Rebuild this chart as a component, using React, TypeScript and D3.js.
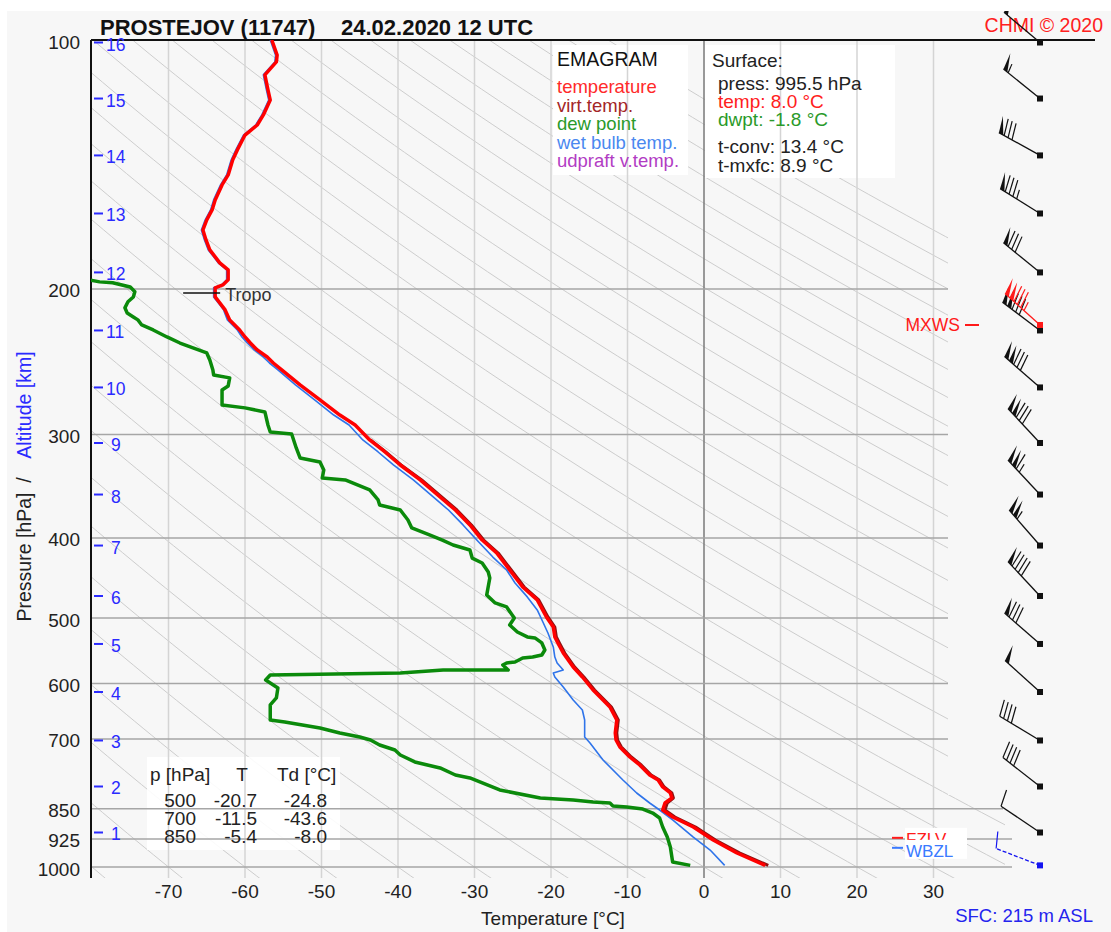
import React from "react";
import * as d3 from "d3";

type Pt = [number, number]; // [pressure hPa, temperature °C]

// Measured temperature profile
const temperature: Pt[] = [
  [100.0, -56.5], [104.3, -55.8], [106.3, -55.9], [110.2, -57.4], [114.9, -57.0], [118.2, -56.7],
  [123.2, -57.6], [126.7, -58.4], [130.3, -60.0], [135.8, -61.0], [139.6, -61.6], [145.6, -62.2],
  [149.7, -63.0], [156.1, -63.9], [160.5, -64.3], [165.0, -65.0], [169.7, -65.5], [174.5, -65.1],
  [179.4, -64.6], [182.9, -63.9], [186.0, -63.3], [189.7, -62.2], [195.0, -62.2], [197.8, -62.9],
  [199.4, -63.9], [204.5, -63.9], [207.9, -63.3], [212.0, -62.6], [218.0, -62.0], [224.2, -60.7],
  [228.6, -60.0], [232.5, -59.3], [237.0, -58.4], [241.7, -57.1], [245.8, -56.3], [250.6, -55.2],
  [261.3, -52.8], [272.4, -50.2], [284.1, -47.6], [292.1, -45.6], [304.5, -43.7], [314.9, -41.7],
  [326.5, -39.7], [340.4, -37.1], [356.9, -34.5], [370.1, -32.5], [385.8, -30.6], [402.4, -29.0],
  [417.2, -27.1], [437.4, -25.4], [458.6, -23.7], [475.4, -21.8], [498.5, -20.6], [512.6, -19.7],
  [527.0, -19.5], [535.9, -19.1], [551.1, -18.4], [573.0, -17.1], [589.2, -15.9], [610.9, -14.5],
  [628.1, -13.2], [640.5, -12.3], [664.1, -11.4], [688.5, -11.6], [702.1, -11.5], [716.0, -11.0],
  [736.2, -9.7], [752.7, -8.4], [774.0, -7.1], [784.8, -6.0], [800.3, -5.4], [813.8, -4.4],
  [825.2, -4.2], [836.8, -5.1], [853.3, -5.4], [870.0, -4.1], [894.6, -1.4], [927.6, 1.2],
  [961.8, 4.3], [995.5, 8.0],
];

// Virtual temperature (lower troposphere, where it departs from the temperature)
const virtualTemperature: Pt[] = [
  [304.5, -43.6], [314.9, -41.6], [326.5, -39.6], [340.4, -36.9], [356.9, -34.3], [370.1, -32.3],
  [385.8, -30.4], [402.4, -28.8], [417.2, -26.9], [437.4, -25.2], [458.6, -23.5], [475.4, -21.6],
  [498.5, -20.4], [512.6, -19.5], [527.0, -19.3], [535.9, -18.9], [551.1, -18.2], [573.0, -16.9],
  [589.2, -15.7], [610.9, -14.3], [628.1, -13.0], [640.5, -12.1], [664.1, -11.2], [688.5, -11.4],
  [702.1, -11.3], [716.0, -10.8], [736.2, -9.5], [752.7, -8.2], [774.0, -6.9], [784.8, -5.8],
  [800.3, -5.2], [813.8, -4.2], [825.2, -4.0], [836.8, -4.8], [853.3, -5.1], [870.0, -3.8],
  [894.6, -1.1], [927.6, 1.5], [961.8, 4.7], [995.5, 8.4],
];

// Dew point profile
const dewPoint: Pt[] = [
  [192.0, -84.0], [196.1, -79.0], [196.6, -77.3], [198.9, -75.0], [201.6, -74.4], [204.5, -74.6],
  [207.3, -75.3], [210.8, -75.7], [213.8, -75.4], [216.2, -74.6], [218.0, -74.0], [221.1, -73.5],
  [224.2, -72.0], [228.6, -70.2], [232.5, -68.5], [235.7, -66.8], [239.0, -65.0], [243.7, -64.6],
  [250.6, -64.2], [254.1, -64.1], [256.2, -62.0], [262.0, -62.2], [265.0, -63.0], [276.2, -63.0],
  [278.5, -60.0], [281.7, -57.4], [292.1, -57.0], [297.8, -56.7], [299.5, -53.9], [311.4, -53.3],
  [320.2, -52.8], [323.8, -50.2], [331.1, -49.7], [338.5, -49.9], [340.4, -46.9], [350.0, -43.7],
  [359.9, -42.6], [365.0, -42.4], [370.1, -39.7], [380.5, -38.7], [389.0, -38.2], [396.8, -35.8],
  [402.4, -34.2], [408.0, -32.8], [413.7, -30.6], [423.1, -30.3], [429.0, -29.0], [439.8, -28.2],
  [447.2, -28.0], [468.8, -28.4], [479.4, -27.3], [484.8, -25.8], [499.9, -24.8], [509.8, -25.4],
  [519.8, -24.4], [527.0, -23.1], [528.5, -22.1], [535.9, -21.2], [546.5, -20.8], [554.2, -21.2],
  [557.3, -22.4], [558.8, -23.7], [565.1, -24.7], [566.6, -25.8], [569.8, -26.3], [577.8, -25.6],
  [577.8, -34.1], [582.7, -39.7], [585.9, -56.7], [594.1, -57.3], [607.5, -55.7], [624.6, -55.9],
  [636.9, -56.7], [664.1, -56.7], [667.8, -54.8], [679.0, -50.2], [688.5, -47.6], [696.3, -45.0],
  [702.1, -43.6], [712.0, -42.4], [722.0, -40.4], [732.1, -39.7], [746.4, -37.8], [759.0, -34.5],
  [774.0, -32.5], [780.4, -30.6], [807.0, -26.7], [825.2, -21.4], [829.8, -17.1], [834.5, -14.5],
  [836.8, -12.3], [843.8, -11.9], [846.2, -10.1], [850.9, -8.0], [860.5, -6.7], [872.4, -5.8],
  [894.6, -5.4], [919.9, -4.8], [945.9, -4.4], [972.6, -4.2], [986.2, -4.1], [995.5, -1.8],
];

// Wet bulb temperature profile
const wetBulb: Pt[] = [
  [100.0, -56.7], [104.3, -56.0], [106.3, -56.1], [110.2, -57.6], [114.9, -57.2], [118.2, -56.9],
  [123.2, -57.8], [126.7, -58.6], [130.3, -60.2], [135.8, -61.2], [139.6, -61.8], [145.6, -62.4],
  [149.7, -63.2], [156.1, -64.1], [160.5, -64.5], [165.0, -65.2], [169.7, -65.7], [174.5, -65.3],
  [179.4, -64.8], [182.9, -64.1], [186.0, -63.5], [189.7, -62.4], [195.0, -62.4], [197.8, -63.1],
  [199.4, -64.1], [204.5, -64.1], [207.9, -63.5], [212.0, -62.8], [218.0, -62.3], [224.2, -61.0],
  [228.6, -60.4], [232.5, -59.7], [237.0, -58.8], [241.7, -57.6], [245.8, -56.8], [250.6, -55.7],
  [261.3, -53.4], [272.4, -50.9], [284.1, -48.4], [292.1, -46.4], [304.5, -44.6], [314.9, -42.6],
  [326.5, -40.6], [340.4, -38.0], [356.9, -35.4], [370.1, -33.4], [385.8, -31.5], [402.4, -29.7],
  [421.9, -27.6], [437.4, -25.8], [453.5, -24.7], [471.4, -23.1], [488.8, -21.8], [506.9, -21.0],
  [521.2, -20.4], [541.9, -19.7], [557.3, -19.5], [566.6, -19.2], [577.8, -18.4], [582.7, -19.7],
  [589.2, -19.5], [605.8, -18.4], [628.1, -17.1], [645.9, -15.9], [664.1, -15.6], [696.3, -15.6],
  [708.0, -14.9], [742.3, -13.2], [784.8, -10.6], [813.8, -8.8], [836.8, -7.1], [853.3, -5.8],
  [877.3, -4.1], [919.9, -1.4], [953.8, 0.8], [995.5, 2.7],
];

const pressureTicks = [100, 200, 300, 400, 500, 600, 700, 850, 925, 1000];
const temperatureTicks = [-70, -60, -50, -40, -30, -20, -10, 0, 10, 20, 30];

// Altitude (km) levels of the sounding and their pressures
const altitudeKm = [16, 15, 14, 13, 12, 11, 10, 9, 8, 7, 6, 5, 4, 3, 2, 1];
const altitudePressure = [
  100.7, 117.7, 137.9, 162.1, 191.0, 224.5, 263.1, 307.1, 354.5, 408.6, 470.2, 537.4, 614.3,
  703.1, 799.2, 908.4,
];

// Winds at each altitude level plus the surface
const windPressure = [...altitudePressure, 995.5];
const windDirection = [310, 309, 299, 302, 309, 307, 311, 317, 317, 319, 317, 311, 312, 301, 308, 304, 291];
const windSpeed = [50, 55, 80, 85, 80, 130, 130, 130, 115, 105, 90, 80, 50, 40, 40, 10, 10];

const maxWindPressure = 221.1;
const maxWindDirection = 312;
const maxWindSpeed = 135;

const tropopausePressure = 202.2;
const freezingLevelPressure = 922;
const wetBulbZeroPressure = 948;

const tableLevels = [500, 700, 850];
const tableT = [-20.7, -11.5, -5.4];
const tableTd = [-24.8, -43.6, -8.0];

const surfacePress = 995.5;
const surfaceTemp = 8.0;
const surfaceDwpt = -1.8;
const tConv = 13.4;
const tMxfc = 8.9;

const legendItems = ["temperature", "virt.temp.", "dew point", "wet bulb temp.", "udpraft v.temp."];
const legendColors = ["#ff2a2a", "#a32626", "#2a9a2a", "#4a88f0", "#b23cc4"];

const FONT = "'Liberation Sans', Arial, Helvetica, sans-serif";

const x = d3.scaleLinear().domain([-80, 30]).range([92, 933.5]);
const y = d3.scaleLog().domain([100, 1000]).range([40, 867]);

const profileLine = d3
  .line<Pt>()
  .x((d) => x(d[1]))
  .y((d) => y(d[0]));

// Dry adiabats labelled by potential temperature (°C at 1000 hPa)
const adiabatThetas = d3.range(-80, 231, 10);
const adiabatLevels = d3.range(0, 121).map((i) => 100 * Math.pow(10.45, i / 120));
const adiabatPath = (thetaC: number) =>
  profileLine(
    adiabatLevels.map((p) => [p, (thetaC + 273.15) * Math.pow(p / 1000, 0.2857) - 273.15] as Pt)
  );

const fmt1 = (v: number) => v.toFixed(1);

function windBarb(
  key: string,
  ax: number,
  ay: number,
  dir: number,
  speed: number,
  color: string,
  dashed = false
) {
  const L = 47;
  const r = (dir * Math.PI) / 180;
  const ux = Math.sin(r);
  const uy = -Math.cos(r);
  const nx = -uy;
  const ny = ux;
  const tx = ax + L * ux;
  const ty = ay + L * uy;
  const bx = nx * 16.5 + ux * 4.5;
  const by = ny * 16.5 + uy * 4.5;
  const at = (s: number): [number, number] => [tx - s * ux, ty - s * uy];
  const parts: React.ReactElement[] = [];
  let rest = Math.round(speed / 5) * 5;
  let s = 0;
  let i = 0;
  while (rest >= 50) {
    const [px, py] = at(s);
    const [qx, qy] = at(s + 5);
    parts.push(
      <polygon key={i++} points={`${px},${py} ${px + bx},${py + by} ${qx},${qy}`} fill={color} />
    );
    s += 6;
    rest -= 50;
  }
  while (rest >= 10) {
    const [px, py] = at(s);
    parts.push(
      <line key={i++} x1={px} y1={py} x2={px + bx} y2={py + by} stroke={color} strokeWidth={1.2} />
    );
    s += 4.5;
    rest -= 10;
  }
  if (rest >= 5) {
    const [px, py] = at(s);
    parts.push(
      <line key={i++} x1={px} y1={py} x2={px + bx * 0.55} y2={py + by * 0.55} stroke={color} strokeWidth={1.2} />
    );
  }
  return (
    <g key={key}>
      <line
        x1={ax}
        y1={ay}
        x2={tx}
        y2={ty}
        stroke={color}
        strokeWidth={1.3}
        strokeDasharray={dashed ? "4 2" : undefined}
      />
      {parts}
      <rect x={ax - 3} y={ay - 3} width={6} height={6} fill={color} />
    </g>
  );
}

export default function App() {
  const barbX = 1040;
  const tropoY = y(tropopausePressure);
  const tropoX = x(-63.9);
  const mxY = y(maxWindPressure);
  const fzY = y(freezingLevelPressure);
  const wbY = y(wetBulbZeroPressure);

  return (
    <div style={{ position: "absolute", left: 0, top: 0 }}>
      <svg width={1111} height={932} viewBox="0 0 1111 932" fontFamily={FONT} style={{ display: "block" }}>
        <defs>
          <clipPath id="plotClip">
            <rect x={91} y={40} width={857} height={832} />
          </clipPath>
          <clipPath id="gridClip">
            <path d="M91,40H948V795H1005V878H91Z" />
          </clipPath>
          <clipPath id="barbClip">
            <rect x={0} y={11} width={1111} height={921} />
          </clipPath>
        </defs>

        <rect width={1111} height={932} fill="#ffffff" />
        <rect x={7} y={11} width={1104} height={921} fill="#f7f7f7" />

        {/* dry adiabats */}
        <g clipPath="url(#gridClip)" fill="none" stroke="#cdcdcd" strokeWidth={1}>
          {adiabatThetas.map((t) => (
            <path key={t} d={adiabatPath(t) || ""} />
          ))}
        </g>

        {/* info boxes */}
        <rect x={553} y={45} width={135} height={130} fill="#ffffff" />
        <rect x={705} y={45} width={190} height={133} fill="#ffffff" />
        <rect x={147} y={757} width={193} height={93} fill="#ffffff" fillOpacity={0.9} />

        {/* isotherms */}
        {temperatureTicks.map((t) => (
          <line
            key={t}
            x1={x(t)}
            x2={x(t)}
            y1={40}
            y2={878}
            stroke={t === 0 ? "#7a7a7a" : "#d4d4d4"}
            strokeWidth={1.5}
          />
        ))}

        {/* isobars */}
        {pressureTicks.slice(1).map((p) => (
          <line
            key={p}
            x1={91}
            x2={p === 850 ? 1003 : p >= 925 ? 1012 : 948}
            y1={y(p)}
            y2={y(p)}
            stroke="#a6a6a6"
            strokeWidth={1.5}
          />
        ))}
        <line x1={91} x2={1095} y1={y(100)} y2={y(100)} stroke="#111" strokeWidth={2} />
        <line x1={91} x2={91} y1={40} y2={878} stroke="#111" strokeWidth={2} />

        {/* profiles */}
        <g clipPath="url(#plotClip)" fill="none" strokeLinejoin="round">
          <path d={profileLine(virtualTemperature) || ""} stroke="#8e1212" strokeWidth={3} />
          <path d={profileLine(dewPoint) || ""} stroke="#0b8a0b" strokeWidth={3.5} />
          <path d={profileLine(wetBulb) || ""} stroke="#2f74ea" strokeWidth={1.6} />
          <path d={profileLine(temperature) || ""} stroke="#ff0000" strokeWidth={3.5} />
        </g>

        {/* tropopause */}
        <line x1={tropoX - 32} x2={tropoX + 5} y1={tropoY} y2={tropoY} stroke="#111" strokeWidth={1.5} />
        <text x={tropoX + 10} y={tropoY + 8} fontSize={18} fill="#333">
          Tropo
        </text>

        {/* title */}
        <text x={100} y={35} fontSize={22} fontWeight="bold" fill="#111">
          PROSTEJOV (11747)
        </text>
        <text x={341} y={35} fontSize={22} fontWeight="bold" fill="#111">
          24.02.2020 12 UTC
        </text>
        <text x={1103} y={32} fontSize={19.5} fill="#ff2020" textAnchor="end">
          CHMI © 2020
        </text>

        {/* pressure labels */}
        {pressureTicks.map((p) => (
          <text key={p} x={80} y={y(p) + 8.5} fontSize={19} fill="#222" textAnchor="end">
            {p}
          </text>
        ))}

        {/* temperature labels */}
        {temperatureTicks.map((t) => (
          <text key={t} x={x(t)} y={898} fontSize={19} fill="#222" textAnchor="middle">
            {t}
          </text>
        ))}
        <text x={553} y={925} fontSize={19} fill="#222" textAnchor="middle">
          Temperature [°C]
        </text>

        {/* vertical axis title */}
        <text transform="translate(31,557) rotate(-90)" fontSize={19.5} fill="#222" textAnchor="middle">
          Pressure [hPa]
        </text>
        <text transform="translate(31,480) rotate(-90)" fontSize={19.5} fill="#222" textAnchor="middle">
          /
        </text>
        <text transform="translate(31,405) rotate(-90)" fontSize={19.5} fill="#2a2aff" textAnchor="middle">
          Altitude [km]
        </text>

        {/* altitude marks */}
        {altitudeKm.map((km, i) => {
          const yy = y(altitudePressure[i]);
          return (
            <g key={km}>
              <line x1={94} x2={103} y1={yy} y2={yy} stroke="#2a2aff" strokeWidth={2} />
              <text x={km >= 10 ? 106 : 111} y={yy + 8} fontSize={17.5} fill="#2a2aff">
                {km}
              </text>
            </g>
          );
        })}

        {/* legend */}
        <text x={557} y={66} fontSize={19.5} fill="#111">
          EMAGRAM
        </text>
        {legendItems.map((name, i) => (
          <text key={name} x={557} y={93 + i * 18.5} fontSize={18.5} fill={legendColors[i]}>
            {name}
          </text>
        ))}

        {/* surface values */}
        <text x={712} y={67} fontSize={19} fill="#222">
          Surface:
        </text>
        <text x={718} y={90} fontSize={19} fill="#222">
          {`press: ${fmt1(surfacePress)} hPa`}
        </text>
        <text x={718} y={108} fontSize={19} fill="#ff2020">
          {`temp: ${fmt1(surfaceTemp)} °C`}
        </text>
        <text x={718} y={126} fontSize={19} fill="#2a9a2a">
          {`dwpt: ${fmt1(surfaceDwpt)} °C`}
        </text>
        <text x={718} y={153} fontSize={19} fill="#222">
          {`t-conv: ${fmt1(tConv)} °C`}
        </text>
        <text x={718} y={172} fontSize={19} fill="#222">
          {`t-mxfc: ${fmt1(tMxfc)} °C`}
        </text>

        {/* level table */}
        <g fontSize={19} fill="#222">
          <text x={150} y={781}>p [hPa]</text>
          <text x={242} y={781} textAnchor="middle">
            T
          </text>
          <text x={277} y={781}>Td [°C]</text>
          {tableLevels.map((p, i) => (
            <g key={p}>
              <text x={196} y={807 + i * 18} textAnchor="end">
                {p}
              </text>
              <text x={257} y={807 + i * 18} textAnchor="end">
                {fmt1(tableT[i])}
              </text>
              <text x={327} y={807 + i * 18} textAnchor="end">
                {fmt1(tableTd[i])}
              </text>
            </g>
          ))}
        </g>

        {/* wind barbs */}
        <g clipPath="url(#barbClip)">
          {windPressure.map((p, i) =>
            i === windPressure.length - 1
              ? windBarb(`w${i}`, barbX, y(p), windDirection[i], windSpeed[i], "#1414f0", true)
              : windBarb(`w${i}`, barbX, y(p), windDirection[i], windSpeed[i], "#111")
          )}
          {windBarb("mx", barbX, mxY, maxWindDirection, maxWindSpeed, "#ff1a1a")}
        </g>

        {/* max wind marker */}
        <line x1={965} x2={979} y1={mxY} y2={mxY} stroke="#ff1a1a" strokeWidth={2} />
        <text x={960} y={mxY + 6} fontSize={17.5} fill="#ff1a1a" textAnchor="end">
          MXWS
        </text>

        {/* freezing and wet-bulb zero levels */}
        <line x1={892} x2={903} y1={fzY} y2={fzY} stroke="#ff1a1a" strokeWidth={2} />
        <rect x={905} y={fzY - 10} width={62} height={17} fill="#ffffff" />
        <text x={906} y={fzY + 7} fontSize={17} fill="#ff1a1a">
          FZLV
        </text>
        <line x1={892} x2={903} y1={wbY} y2={wbY} stroke="#3a7aff" strokeWidth={2} />
        <rect x={905} y={wbY - 8} width={62} height={19} fill="#ffffff" />
        <text x={906} y={wbY + 9} fontSize={17} fill="#3a7aff">
          WBZL
        </text>

        <text x={1093} y={922} fontSize={18.5} fill="#2424ee" textAnchor="end">
          SFC: 215 m ASL
        </text>
      </svg>
    </div>
  );
}
